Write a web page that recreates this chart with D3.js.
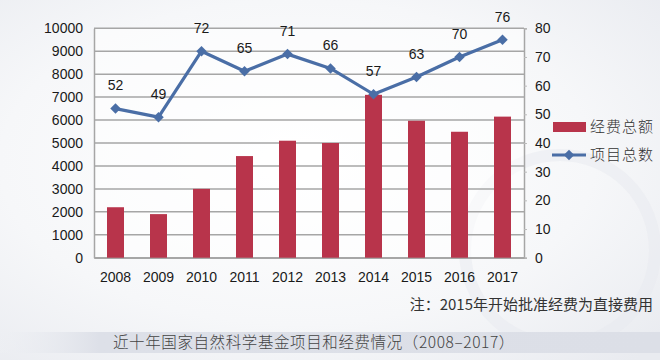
<!DOCTYPE html>
<html><head><meta charset="utf-8">
<script src="https://cdn.jsdelivr.net/npm/d3@7/dist/d3.min.js"></script>
<style>
html,body{margin:0;padding:0;background:#fff;}
svg{display:block;}
</style></head>
<body>
<svg id="c" width="660" height="360"></svg>
<script>
const years = ["2008","2009","2010","2011","2012","2013","2014","2015","2016","2017"];
const funding = [2200,1900,3000,4430,5100,5000,7100,5970,5490,6150];
const projects = [52,49,72,65,71,66,57,63,70,76];
const leftTicks = [0,1000,2000,3000,4000,5000,6000,7000,8000,9000,10000];
const rightTicks = [0,10,20,30,40,50,60,70,80];
const legendLabels = ["经费总额","项目总数"];
const noteText = "注：2015年开始批准经费为直接费用";
const titleText = "近十年国家自然科学基金项目和经费情况（2008–2017）";

const svg = d3.select("#c");
const defs = svg.append("defs");
const bg = defs.append("radialGradient").attr("id","bg").attr("cx","0.45").attr("cy","0.45").attr("r","0.75");
bg.append("stop").attr("offset","0").attr("stop-color","#ffffff");
bg.append("stop").attr("offset","0.6").attr("stop-color","#f6f7f9");
bg.append("stop").attr("offset","1").attr("stop-color","#e9ebf0");
const band = defs.append("linearGradient").attr("id","band").attr("x1","0").attr("x2","1");
band.append("stop").attr("offset","0").attr("stop-color","#eef0f4").attr("stop-opacity","0.3");
band.append("stop").attr("offset","0.15").attr("stop-color","#dde0e8");
band.append("stop").attr("offset","1").attr("stop-color","#dcdfe7");

svg.append("rect").attr("width",660).attr("height",360).attr("fill","url(#bg)");
svg.append("circle").attr("cx",560).attr("cy",250).attr("r",95).attr("fill","none").attr("stroke","#e8eaef").attr("stroke-width",12).attr("opacity",0.5);

const x0 = 94, x1 = 524, yTop = 28.3, yBot = 257.7;
const x = d3.scaleBand().domain(years).range([x0,x1]).paddingInner(0).paddingOuter(0);
const yL = d3.scaleLinear().domain([0,10000]).range([yBot,yTop]);
const yR = d3.scaleLinear().domain([0,80]).range([yBot,yTop]);

const font = "'Liberation Sans', Arial, sans-serif";
const cjk = "'Noto Sans CJK SC', sans-serif";

svg.append("rect").attr("x",x0).attr("y",yTop).attr("width",x1-x0).attr("height",yBot-yTop).attr("fill","#ffffff").attr("opacity",0.5);

svg.append("g").selectAll("line").data(leftTicks).join("line")
  .attr("x1",x0).attr("x2",x1).attr("y1",d=>yL(d)).attr("y2",d=>yL(d))
  .attr("stroke","#a6a6a6").attr("stroke-width",1.5);

const gL = svg.append("g").attr("transform",`translate(${x0},0)`)
  .call(d3.axisLeft(yL).tickValues(leftTicks).tickSize(0).tickPadding(11).tickFormat(d3.format("d")));
gL.select(".domain").attr("stroke","#a6a6a6").attr("stroke-width",1.5);
gL.selectAll("text").attr("font-family",font).attr("font-size",14).attr("fill","#1a1a1a");

const gR = svg.append("g").attr("transform",`translate(${x1},0)`)
  .call(d3.axisRight(yR).tickValues(rightTicks).tickSize(3).tickPadding(8));
gR.select(".domain").attr("stroke","#a6a6a6").attr("stroke-width",1.5);
gR.selectAll(".tick line").attr("stroke","#bbbbbb");
gR.selectAll("text").attr("font-family",font).attr("font-size",14).attr("fill","#1a1a1a");

const gB = svg.append("g").attr("transform",`translate(0,${yBot})`)
  .call(d3.axisBottom(x).tickSize(0).tickPadding(14));
gB.select(".domain").attr("stroke","#a6a6a6").attr("stroke-width",1.5);
gB.selectAll("text").attr("font-family",font).attr("font-size",14).attr("fill","#1a1a1a");

const bw = 17;
svg.append("g").selectAll("rect").data(years).join("rect")
  .attr("x",(d)=>x(d)+x.bandwidth()/2-bw/2)
  .attr("width",bw)
  .attr("y",(d,i)=>yL(funding[i]))
  .attr("height",(d,i)=>yBot-yL(funding[i]))
  .attr("fill","#b8344b");

const lineColor = "#4a6ea6";
const line = d3.line().x((d,i)=>x(years[i])+x.bandwidth()/2).y(d=>yR(d));
svg.append("path").datum(projects).attr("d",line).attr("fill","none")
  .attr("stroke",lineColor).attr("stroke-width",3.2).attr("stroke-linejoin","round");
const diamond = d3.symbol().type(d3.symbolDiamond2).size(70);
svg.append("g").selectAll("path").data(projects).join("path")
  .attr("d",diamond)
  .attr("transform",(d,i)=>`translate(${x(years[i])+x.bandwidth()/2},${yR(d)})`)
  .attr("fill",lineColor);

svg.append("g").selectAll("text").data(projects).join("text")
  .attr("x",(d,i)=>x(years[i])+x.bandwidth()/2)
  .attr("y",d=>yR(d)-23)
  .attr("dy","0.35em")
  .attr("text-anchor","middle")
  .attr("font-family",font).attr("font-size",14).attr("fill","#1a1a1a")
  .text(d=>d);

const lg = svg.append("g");
lg.append("rect").attr("x",553).attr("y",122).attr("width",33).attr("height",10).attr("fill","#b8344b");
lg.append("text").attr("x",590).attr("y",127).attr("dy","0.35em")
  .attr("font-family",cjk).attr("font-size",15).attr("font-weight",300).attr("fill","#333").attr("letter-spacing",1)
  .text(legendLabels[0]);
lg.append("line").attr("x1",552).attr("x2",586).attr("y1",155).attr("y2",155)
  .attr("stroke",lineColor).attr("stroke-width",3.2);
lg.append("path").attr("d",diamond).attr("transform","translate(569,155)").attr("fill",lineColor);
lg.append("text").attr("x",590).attr("y",155).attr("dy","0.35em")
  .attr("font-family",cjk).attr("font-size",15).attr("font-weight",300).attr("fill","#333").attr("letter-spacing",1)
  .text(legendLabels[1]);

svg.append("text").attr("x",653).attr("y",305).attr("dy","0.35em").attr("text-anchor","end")
  .attr("font-family",cjk).attr("font-size",15).attr("font-weight",400).attr("fill","#333")
  .text(noteText);

svg.append("rect").attr("x",0).attr("y",332).attr("width",660).attr("height",21).attr("fill","url(#band)");
svg.append("text").attr("x",314).attr("y",343).attr("dy","0.35em").attr("text-anchor","middle")
  .attr("font-family",cjk).attr("font-size",15.5).attr("font-weight",300).attr("fill","#444").attr("letter-spacing",0.6)
  .text(titleText);
</script>
</body></html>
